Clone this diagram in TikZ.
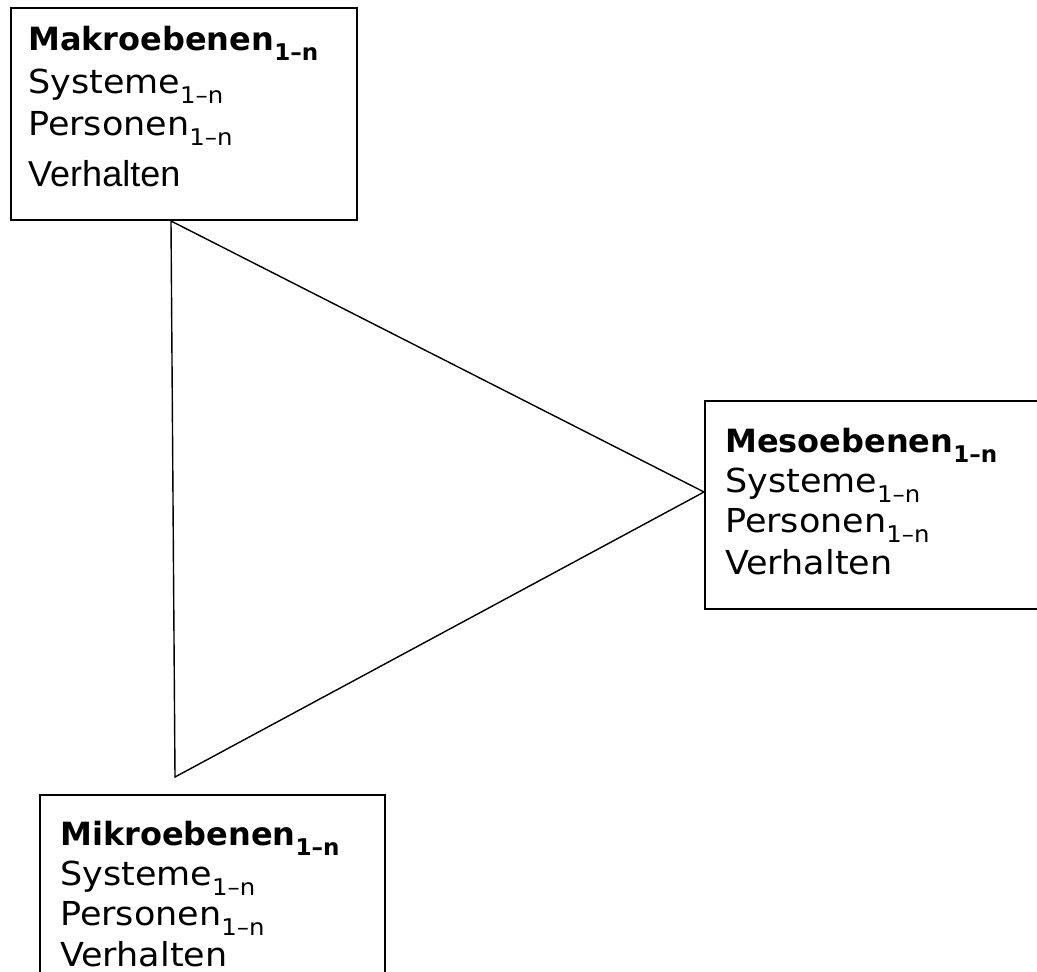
\documentclass[tikz,border=0pt]{standalone}
\usepackage{fontspec}
\setmainfont{DejaVu Sans}
\newfontfamily\widefont[FakeStretch=1.06]{DejaVu Sans}
\newfontfamily\arialfont{Liberation Sans}
% lowered index such as "1–n"
\newcommand{\lvsub}[1]{\raisebox{-10pt}{\fontsize{23}{23}\selectfont #1}}
\begin{document}
\begin{tikzpicture}[x=1pt,y=-1pt,
  box/.style={draw, line width=1.5pt, inner sep=0pt, anchor=north west},
  edge/.style={line width=1.4pt, line join=miter},
  head/.style={anchor=base west, inner sep=0pt, font=\fontsize{32}{32}\selectfont\bfseries},
  entry/.style={anchor=base west, inner sep=0pt, font=\fontsize{33}{33}\selectfont\widefont}]
\useasboundingbox (0,0) rectangle (1037,972);

% level boxes
\node[box, minimum width=346pt, minimum height=212pt] (makro) at (10,7) {};
\node[box, minimum width=334pt, minimum height=208pt] (meso) at (704,400) {};
\node[box, minimum width=345pt, minimum height=200pt] (mikro) at (39,794) {};

% triangle linking the three levels
\coordinate (tTop) at (171,221);
\coordinate (tMid) at (704,492);
\coordinate (tBot) at (175,777);
\draw[edge] (tTop) -- (tMid) -- (tBot) -- cycle;

% macro level
\node[head]  (makroH) at (28,50)  {Makroebenen\lvsub{1–n}};
\node[entry] (makroS) at (28,93)  {Systeme\lvsub{1–n}};
\node[entry] (makroP) at (28,135) {Personen\lvsub{1–n}};
\node[entry, font=\fontsize{36}{36}\selectfont\arialfont] (makroV) at (28,186) {Verhalten};

% meso level
\node[head]  (mesoH) at (725,452) {Mesoebenen\lvsub{1–n}};
\node[entry] (mesoS) at (725,492) {Systeme\lvsub{1–n}};
\node[entry] (mesoP) at (725,532) {Personen\lvsub{1–n}};
\node[entry] (mesoV) at (725,574) {Verhalten};

% micro level
\node[head]  (mikroH) at (60,845) {Mikroebenen\lvsub{1–n}};
\node[entry] (mikroS) at (60,885) {Systeme\lvsub{1–n}};
\node[entry] (mikroP) at (60,925) {Personen\lvsub{1–n}};
\node[entry] (mikroV) at (60,966) {Verhalten};
\end{tikzpicture}
\end{document}
